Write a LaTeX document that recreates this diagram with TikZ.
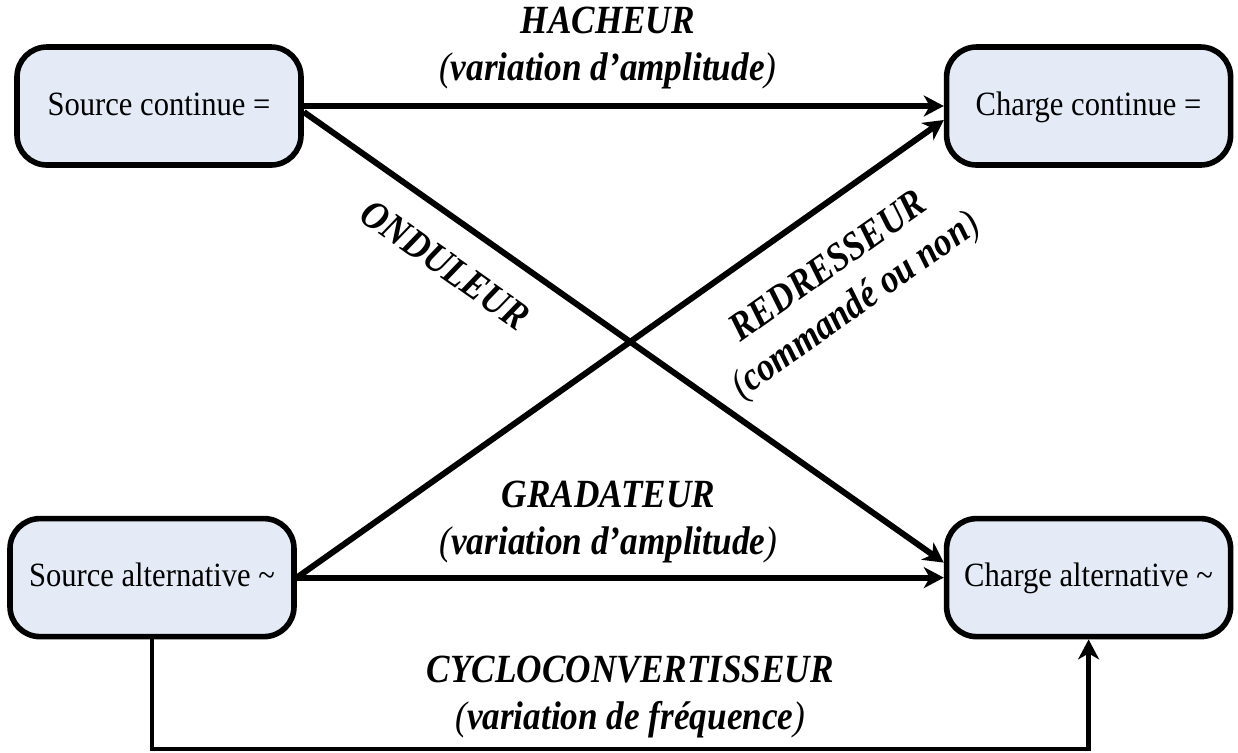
\documentclass[tikz,border=0pt]{standalone}
\usepackage{fontspec}
\setmainfont{Liberation Serif}
\newfontfamily\boxfont[FakeStretch=0.9]{Liberation Serif}
\newfontfamily\convfont[FakeStretch=0.88]{Liberation Serif}
\usetikzlibrary{arrows.meta,positioning}
\definecolor{boxfill}{RGB}{228,235,247}

\begin{document}
\begin{tikzpicture}[node distance=174pt,
                    box node/.style={draw,line width=2.8pt,rounded corners=15pt,fill=boxfill,
                      minimum width=142pt,minimum height=59pt,text height=12pt,text depth=3pt,
                      font=\boxfont\fontsize{17}{20}\selectfont},
                    conv line/.style={line width=3pt,-{Stealth[length=10pt,width=10.5pt,inset=3pt]}},
                    conv label/.style={font=\convfont\fontsize{20}{23.5}\selectfont\bfseries\itshape,
                      align=center,inner sep=2pt}]
  \useasboundingbox (0,0) rectangle (619pt,-376pt);
  \node[box node] (sc) at (79.5pt,-53pt) {Source continue =};
  \node[box node] (cc) [right=320pt of sc] {Charge continue =};
  \node[box node] (sa) [below=of sc,xshift=-3.5pt] {Source alternative \textasciitilde};
  \node[box node] (ca) [below=of cc] {Charge alternative \textasciitilde};
  \coordinate (low) at ([yshift=-54.8pt]sa.south);

  \draw[conv line] (sc) -- node[conv label,above=5pt,xshift=-8pt]
    {HACHEUR\\\textmd{(}variation d’amplitude\textmd{)}} (cc);
  \draw[conv line] ([yshift=-3pt]sc.east) -- node[conv label,sloped,pos=0.26,below=11.5pt]
    {ONDULEUR} ([yshift=7.5pt]ca.west);
  \draw[conv line] (sa.east) -- node[conv label,sloped,pos=0.774,below=15.5pt]
    {REDRESSEUR\\\textmd{(}commandé ou non\textmd{)}} ([yshift=-7pt]cc.west);
  \draw[conv line] (sa) -- node[conv label,above=3.7pt,xshift=-6pt]
    {GRADATEUR\\\textmd{(}variation d’amplitude\textmd{)}} (ca);
  \draw[conv line,line width=2.4pt] (sa.south) -- (low) -| node[conv label,pos=0.25,above=2.2pt,xshift=5pt]
    {CYCLOCONVERTISSEUR\\\textmd{(}variation de fréquence\textmd{)}} (ca.south);
\end{tikzpicture}
\end{document}
